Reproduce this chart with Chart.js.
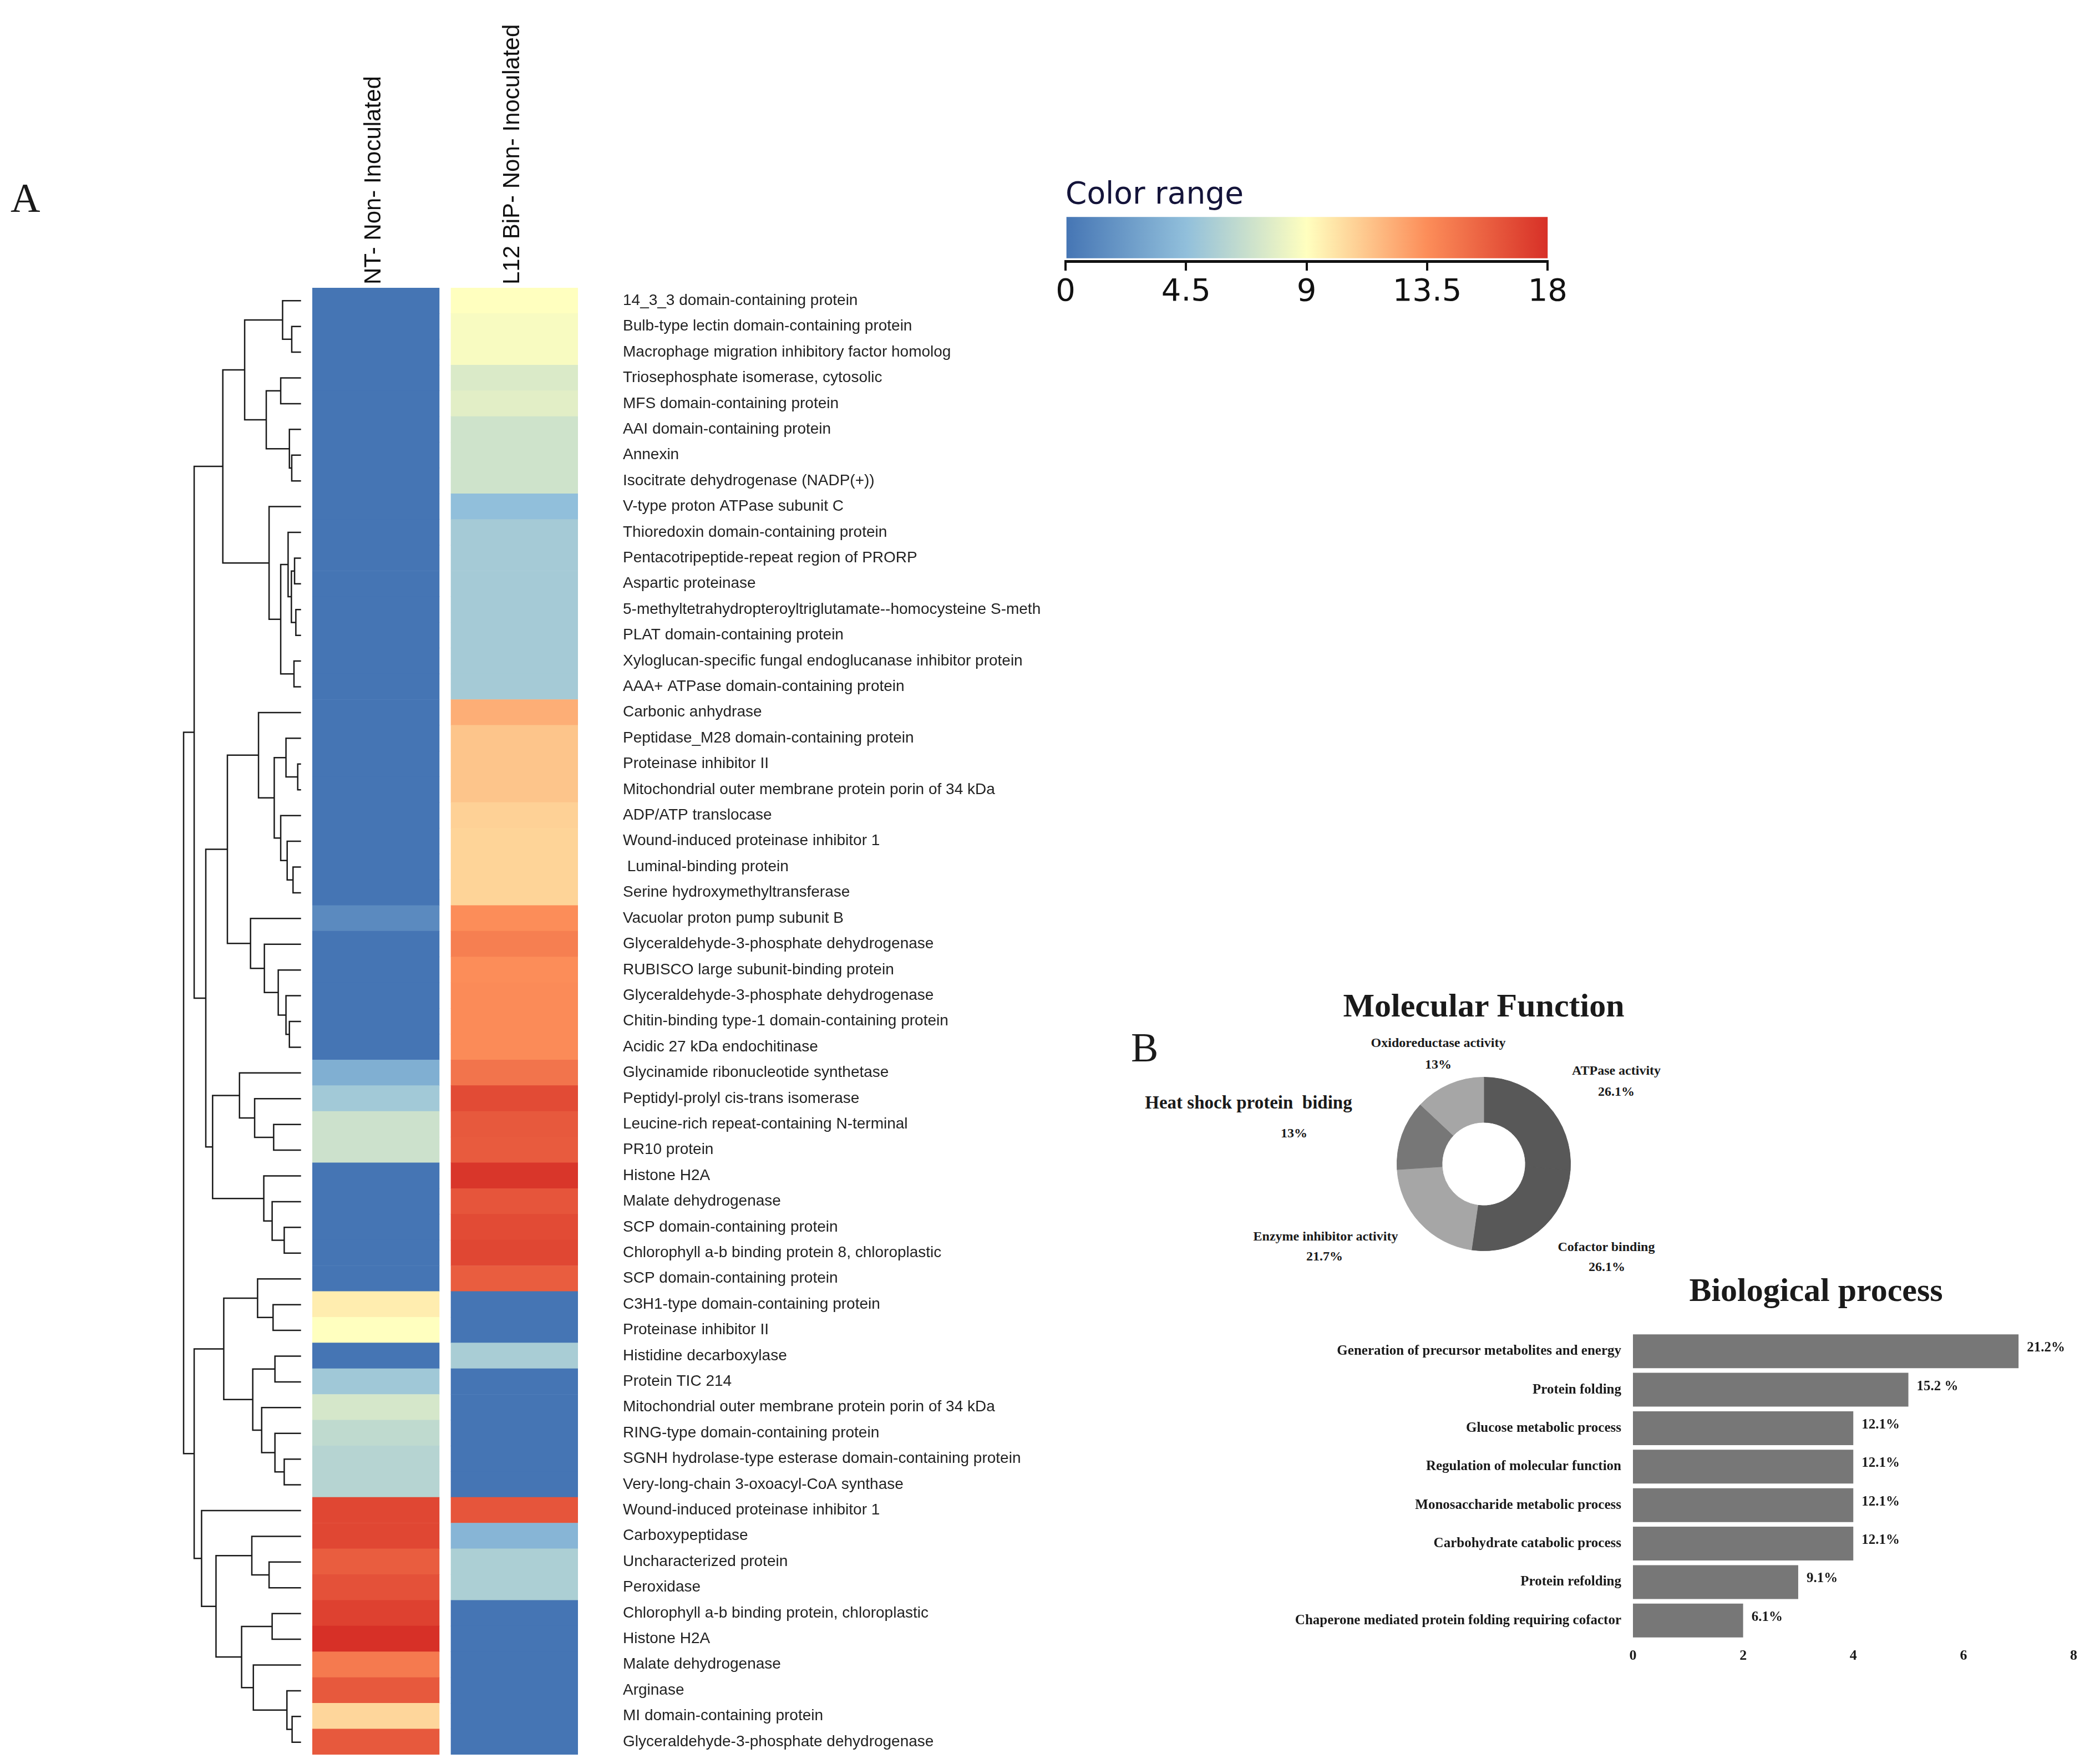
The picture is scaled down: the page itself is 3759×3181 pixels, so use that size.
<!DOCTYPE html>
<html>
<head>
<meta charset="utf-8">
<script src="https://cdn.jsdelivr.net/npm/chart.js@4.4.1/dist/chart.umd.min.js"></script>
<style>
  html, body { margin: 0; padding: 0; background: #fff; }
  body { width: 3759px; height: 3181px; position: relative; overflow: hidden; }
  canvas { position: absolute; }
  .txt { position: absolute; font-family: "Liberation Serif", "Times New Roman", serif; color: #1a1a1a; line-height: 1; white-space: pre; }
  .b { font-weight: bold; }
  .c { transform: translateX(-50%); text-align: center; }
</style>
</head>
<body>
<div class="txt" style="left:19px; top:320px; font-size:74px;">A</div>
<div class="txt" style="left:2039px; top:1852px; font-size:74px;">B</div>
<div class="txt b c" style="left:2675px; top:1783px; font-size:60px;">Molecular Function</div>
<div class="txt b c" style="left:3274px; top:2296px; font-size:60px;">Biological process</div>
<div id="mfLabels"></div>

<canvas id="dendro" width="230" height="2646" style="left:320px; top:519px;"></canvas>
<canvas id="heat" width="1339" height="3181" style="left:563px; top:0px;"></canvas>
<canvas id="range" width="951" height="245" style="left:1881px; top:320px;"></canvas>
<canvas id="donut" width="314" height="314" style="left:2518px; top:1942px;"></canvas>
<canvas id="bars" width="1459" height="620" style="left:2300px; top:2387px;"></canvas>

<script>
// ---- heatmap data ----
const rowLabels = [
  "14_3_3 domain-containing protein",
  "Bulb-type lectin domain-containing protein",
  "Macrophage migration inhibitory factor homolog",
  "Triosephosphate isomerase, cytosolic",
  "MFS domain-containing protein",
  "AAI domain-containing protein",
  "Annexin",
  "Isocitrate dehydrogenase (NADP(+))",
  "V-type proton ATPase subunit C",
  "Thioredoxin domain-containing protein",
  "Pentacotripeptide-repeat region of PRORP",
  "Aspartic proteinase",
  "5-methyltetrahydropteroyltriglutamate--homocysteine S-meth",
  "PLAT domain-containing protein",
  "Xyloglucan-specific fungal endoglucanase inhibitor protein",
  "AAA+ ATPase domain-containing protein",
  "Carbonic anhydrase",
  "Peptidase_M28 domain-containing protein",
  "Proteinase inhibitor II",
  "Mitochondrial outer membrane protein porin of 34 kDa",
  "ADP/ATP translocase",
  "Wound-induced proteinase inhibitor 1",
  " Luminal-binding protein",
  "Serine hydroxymethyltransferase",
  "Vacuolar proton pump subunit B",
  "Glyceraldehyde-3-phosphate dehydrogenase",
  "RUBISCO large subunit-binding protein",
  "Glyceraldehyde-3-phosphate dehydrogenase",
  "Chitin-binding type-1 domain-containing protein",
  "Acidic 27 kDa endochitinase",
  "Glycinamide ribonucleotide synthetase",
  "Peptidyl-prolyl cis-trans isomerase",
  "Leucine-rich repeat-containing N-terminal",
  "PR10 protein",
  "Histone H2A",
  "Malate dehydrogenase",
  "SCP domain-containing protein",
  "Chlorophyll a-b binding protein 8, chloroplastic",
  "SCP domain-containing protein",
  "C3H1-type domain-containing protein",
  "Proteinase inhibitor II",
  "Histidine decarboxylase",
  "Protein TIC 214",
  "Mitochondrial outer membrane protein porin of 34 kDa",
  "RING-type domain-containing protein",
  "SGNH hydrolase-type esterase domain-containing protein",
  "Very-long-chain 3-oxoacyl-CoA synthase",
  "Wound-induced proteinase inhibitor 1",
  "Carboxypeptidase",
  "Uncharacterized protein",
  "Peroxidase",
  "Chlorophyll a-b binding protein, chloroplastic",
  "Histone H2A",
  "Malate dehydrogenase",
  "Arginase",
  "MI domain-containing protein",
  "Glyceraldehyde-3-phosphate dehydrogenase"
];
const colNames = ["NT- Non- Inoculated", "L12 BiP- Non- Inoculated"];

const ntValues = [
  0, 0, 0, 0, 0, 0, 0, 0, 0, 0,
  0, 0, 0, 0, 0, 0, 0, 0, 0, 0,
  0, 0, 0, 0, 1.3, 0, 0, 0, 0, 0,
  3.5, 5.2, 6.9, 6.9, 0, 0, 0, 0, 0, 9.7,
  9.0, 0, 5.1, 7.3, 6.4, 6.0, 6.0, 16.9, 16.9, 15.8,
  16.4, 17.2, 18, 14.4, 16.0, 10.6, 16.0
];
const l12Values = [
  9.0, 8.7, 8.7, 7.5, 7.8, 7.0, 7.0, 7.0, 4.5, 5.3,
  5.3, 5.3, 5.3, 5.3, 5.3, 5.3, 12.2, 11.3, 11.3, 11.3,
  10.8, 10.7, 10.7, 10.7, 13.5, 14.2, 13.5, 13.6, 13.6, 13.6,
  14.7, 16.7, 16.0, 15.9, 17.7, 16.2, 16.7, 16.9, 15.8, 0,
  0, 5.5, 0, 0, 0, 0, 0, 16.2, 3.9, 5.6,
  5.6, 0, 0, 0, 0, 0, 0
];

// row dendrogram, hclust style: negative = row number, positive = earlier merge
const merges = [
  [-2, -3, 7.9], [-1, 1, 15.7], [-4, -5, 17.3], [-7, -8, 7.9], [-6, 4, 9.9],
  [3, 5, 29.6], [2, 6, 48.0], [-11, -12, 5.5], [-13, -14, 4.4], [8, 9, 8.2],
  [-10, 10, 11.0], [-15, -16, 6.0], [11, 12, 17.3], [-9, 13, 27.2], [7, 14, 66.6],
  [-19, -20, 2.8], [-18, 16, 12.8], [-23, -24, 6.8], [-22, 18, 11.8], [-21, 19, 17.3],
  [17, 20, 22.8], [-17, 21, 36.2], [-29, -30, 9.9], [-28, 23, 12.8], [-27, 24, 19.4],
  [-26, 25, 31.2], [-25, 26, 43.0], [22, 27, 62.7], [-33, -34, 23.3], [-32, 29, 39.5],
  [-31, 30, 52.4], [-37, -38, 14.3], [-36, 32, 24.6], [-35, 33, 31.7], [31, 34, 75.3],
  [28, 35, 81.1], [15, 36, 91.0], [-40, -41, 23.8], [-39, 38, 37.0], [-42, -43, 22.2],
  [-46, -47, 14.3], [-45, 41, 22.2], [-44, 42, 33.5], [40, 43, 41.1], [39, 44, 65.8],
  [-50, -51, 27.2], [-49, 46, 41.9], [-52, -53, 24.6], [-56, -57, 7.6], [-55, 49, 12.0],
  [-54, 50, 40.6], [48, 51, 50.6], [47, 52, 72.4], [-48, 53, 84.7], [45, 54, 91.0],
  [37, 55, 100]
];

const rangeTicks = [0, 4.5, 9, 13.5, 18];
const rangeColors = ["#4575b4", "#91bfdb", "#ffffbf", "#fc8d59", "#d73027"];

// ---- panel B data ----
const mfLabels = ["ATPase activity", "Cofactor binding", "Enzyme inhibitor activity", "Heat shock protein  biding", "Oxidoreductase activity"];
const mfValues = [26.1, 26.1, 21.7, 13, 13];
const mfColors = ["#585858", "#585858", "#a6a6a6", "#777777", "#a6a6a6"];

const bpLabels = [
  "Generation of precursor metabolites and energy",
  "Protein folding",
  "Glucose metabolic process",
  "Regulation of molecular function",
  "Monosaccharide metabolic process",
  "Carbohydrate catabolic process",
  "Protein refolding",
  "Chaperone mediated protein folding requiring cofactor"
];
const bpCounts = [7, 5, 4, 4, 4, 4, 3, 2];
const bpPct = ["21.2%", "15.2 %", "12.1%", "12.1%", "12.1%", "12.1%", "9.1%", "6.1%"];

const SANS = "'Liberation Sans', Arial, sans-serif";
const SERIF = "'Liberation Serif', 'Times New Roman', serif";

Chart.defaults.animation = false;
Chart.defaults.plugins.legend.display = false;
Chart.defaults.plugins.tooltip.enabled = false;
Chart.defaults.responsive = false;
Chart.defaults.devicePixelRatio = 1;

function hexRgb(h) {
  return [1, 3, 5].map(i => parseInt(h.slice(i, i + 2), 16));
}
function heatColor(v) {
  let i = 0;
  while (i < rangeTicks.length - 2 && v > rangeTicks[i + 1]) i++;
  const t = Math.min(1, Math.max(0, (v - rangeTicks[i]) / (rangeTicks[i + 1] - rangeTicks[i])));
  const a = hexRgb(rangeColors[i]), b = hexRgb(rangeColors[i + 1]);
  const c = a.map((x, k) => Math.round(x + (b[k] - x) * t));
  return `rgb(${c[0]},${c[1]},${c[2]})`;
}

// ---- dendrogram ----
const nodeY = [], nodeH = [];
const dendroSets = [];
function branchEnd(ref) {
  return ref < 0 ? { y: -ref, h: 0 } : { y: nodeY[ref - 1], h: nodeH[ref - 1] };
}
for (const [a, b, h] of merges) {
  const A = branchEnd(a), B = branchEnd(b);
  nodeY.push((A.y + B.y) / 2);
  nodeH.push(h);
  dendroSets.push({
    data: [{ x: A.h, y: A.y }, { x: h, y: A.y }, { x: h, y: B.y }, { x: B.h, y: B.y }],
    showLine: true,
    borderColor: "#1a1a1a",
    borderWidth: 2.5,
    pointRadius: 0
  });
}

new Chart(document.getElementById("dendro"), {
  type: "scatter",
  data: { datasets: dendroSets },
  options: {
    layout: { padding: 0 },
    scales: {
      x: { type: "linear", reverse: true, min: -3.45, max: 105.2, display: false },
      y: { type: "linear", reverse: true, min: 0.5, max: rowLabels.length + 0.5, display: false }
    }
  }
});

// ---- heatmap ----
const colGap = 0.092;
new Chart(document.getElementById("heat"), {
  type: "bar",
  data: {
    labels: rowLabels,
    datasets: [ntValues, l12Values].map((vals, c) => ({
      label: colNames[c],
      data: vals.map(() => [c * (1 + colGap), c * (1 + colGap) + 1]),
      backgroundColor: vals.map(heatColor),
      borderWidth: 0,
      grouped: false,
      barPercentage: 1,
      categoryPercentage: 1
    }))
  },
  options: {
    indexAxis: "y",
    layout: { padding: 0 },
    scales: {
      x: {
        type: "linear", position: "top", min: 0, max: 2 + colGap,
        grid: { display: false, drawTicks: false },
        border: { display: false },
        afterBuildTicks: axis => { axis.ticks = colNames.map((_, i) => ({ value: i * (1 + colGap) + 0.5 })); },
        afterFit: axis => { axis.height = 519; },
        ticks: {
          autoSkip: false, minRotation: 90, maxRotation: 90, padding: 6, labelOffset: 47,
          color: "#111", font: { family: SANS, size: 42 },
          callback: (v, i) => colNames[i]
        }
      },
      y: {
        position: "right",
        // invisible tick marks give the gap between cells and labels
        grid: { display: false, drawTicks: true, tickLength: 81 },
        border: { display: false },
        afterFit: axis => { axis.width = 860; },
        ticks: { autoSkip: false, padding: 0, color: "#222", font: { family: SANS, size: 28 } }
      }
    }
  }
});

// ---- color range legend ----
new Chart(document.getElementById("range"), {
  type: "bar",
  data: {
    labels: [""],
    datasets: [{
      data: [[rangeTicks[0], rangeTicks[rangeTicks.length - 1]]],
      barThickness: 74,
      backgroundColor: ctx => {
        const area = ctx.chart.chartArea;
        if (!area) return rangeColors[0];
        const g = ctx.chart.ctx.createLinearGradient(area.left, 0, area.right, 0);
        const span = rangeTicks[rangeTicks.length - 1] - rangeTicks[0];
        rangeTicks.forEach((t, i) => g.addColorStop((t - rangeTicks[0]) / span, rangeColors[i]));
        return g;
      }
    }]
  },
  options: {
    indexAxis: "y",
    layout: { padding: { left: 40, right: 40, top: 0, bottom: 0 } },
    plugins: {
      title: {
        display: true, text: "Color range", align: "start",
        color: "#14143a", font: { family: "'DejaVu Sans', Verdana, sans-serif", size: 55, weight: "normal" },
        padding: { top: 0, bottom: 0 }
      }
    },
    scales: {
      x: {
        type: "linear", min: rangeTicks[0], max: rangeTicks[rangeTicks.length - 1],
        afterBuildTicks: axis => { axis.ticks = rangeTicks.map(v => ({ value: v })); },
        afterFit: axis => { axis.height = 94; },
        grid: { display: true, drawOnChartArea: false, drawTicks: true, tickLength: 17, color: "#111", lineWidth: 4 },
        border: { display: true, color: "#111", width: 5 },
        ticks: { padding: 6, color: "#111", font: { family: "'DejaVu Sans', Verdana, sans-serif", size: 56 } }
      },
      y: { display: false }
    }
  }
});

// ---- molecular function doughnut ----
new Chart(document.getElementById("donut"), {
  type: "doughnut",
  data: {
    labels: mfLabels,
    datasets: [{ data: mfValues, backgroundColor: mfColors, borderColor: mfColors, borderWidth: 1 }]
  },
  options: { cutout: "48%", layout: { padding: 0 } }
});

// label placement around the doughnut: [centre x, cap top, font size]
const mfLabelPos = [
  [2914, 1922, 24], [2896, 2240, 24], [2390, 2221, 24], [2251, 1978, 33], [2593, 1872, 24]
];
const mfPctPos = [
  [2914, 1960], [2897, 2276], [2388, 2257], [2333, 2035], [2593, 1911]
];
const holder = document.getElementById("mfLabels");
mfLabels.forEach((name, i) => {
  const [x, capTop, size] = mfLabelPos[i];
  const d = document.createElement("div");
  d.className = "txt b c";
  d.style.cssText = `left:${x}px; top:${capTop - 0.1755 * size}px; font-size:${size}px;`;
  d.textContent = name;
  holder.appendChild(d);
  const p = document.createElement("div");
  p.className = "txt b c";
  p.style.cssText = `left:${mfPctPos[i][0]}px; top:${mfPctPos[i][1] - 0.1755 * 24}px; font-size:24px;`;
  p.textContent = mfValues[i] + "%";
  holder.appendChild(p);
});

// ---- biological process bars ----
const barValueLabels = {
  id: "barValueLabels",
  afterDatasetsDraw(chart) {
    const { ctx } = chart;
    ctx.save();
    ctx.font = `bold 25px ${SERIF}`;
    ctx.fillStyle = "#1a1a1a";
    ctx.textAlign = "left";
    ctx.textBaseline = "middle";
    chart.getDatasetMeta(0).data.forEach((bar, i) => ctx.fillText(bpPct[i], bar.x + 15, bar.y - 6));
    ctx.restore();
  }
};

new Chart(document.getElementById("bars"), {
  type: "bar",
  data: {
    labels: bpLabels,
    datasets: [{ data: bpCounts, backgroundColor: "#777777", barPercentage: 0.88, categoryPercentage: 1 }]
  },
  options: {
    indexAxis: "y",
    layout: { padding: { top: 0, right: 19, bottom: 0, left: 0 } },
    scales: {
      x: {
        min: 0, max: 8,
        grid: { display: false, drawTicks: false },
        border: { display: false },
        afterFit: axis => { axis.height = 50; },
        ticks: { stepSize: 2, padding: 14, color: "#1a1a1a", font: { family: SERIF, size: 26, weight: "bold" } }
      },
      y: {
        grid: { display: false, drawTicks: true, tickLength: 21 },
        border: { display: false },
        afterFit: axis => { axis.width = 644; },
        ticks: { padding: 0, color: "#1a1a1a", font: { family: SERIF, size: 25, weight: "bold" } }
      }
    }
  },
  plugins: [barValueLabels]
});
</script>
</body>
</html>
